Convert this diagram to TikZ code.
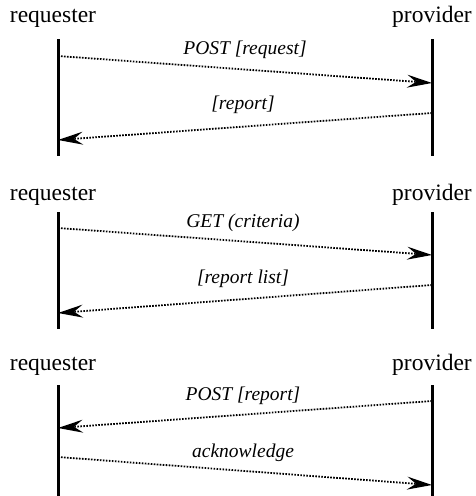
\documentclass[tikz,border=0pt]{standalone}
\usepackage{fontspec}
\setmainfont{Liberation Serif}
\usetikzlibrary{arrows.meta}
\begin{document}
\begin{tikzpicture}[x=1pt,y=-1pt,
  actor/.style={font=\fontsize{23.5}{26}\selectfont, inner sep=0pt, anchor=base},
  lifeline/.style={line width=3pt},
  msg/.style={line width=1.8pt, dash pattern=on 1.6pt off 1.4pt, -{Stealth[length=25pt,width=13pt,inset=9pt,line width=0pt]}},
  lbl/.style={font=\fontsize{19.5}{22}\selectfont\itshape, inner sep=0pt, anchor=base}]
\useasboundingbox (0,0) rectangle (475,496);
% section 1
\node[actor] (r1) at (53,22) {requester};
\node[actor] (p1) at (432,22) {provider};
\coordinate (r1t) at (58,39); \coordinate (r1b) at (58,156);
\coordinate (p1t) at (432,39); \coordinate (p1b) at (432,156);
\draw[lifeline] (r1t) -- (r1b);
\draw[lifeline] (p1t) -- (p1b);
\coordinate (a1s) at (58,56); \coordinate (a1e) at (432,83);
\coordinate (b1s) at (432,113); \coordinate (b1e) at (58,140);
\draw[msg] (a1s) -- (a1e);
\draw[msg] (b1s) -- (b1e);
\node[lbl] (l1a) at (245,54) {POST [request]};
\node[lbl] (l1b) at (243,109) {[report]};
% section 2
\node[actor] (r2) at (53,200) {requester};
\node[actor] (p2) at (432,200) {provider};
\coordinate (r2t) at (58,212); \coordinate (r2b) at (58,329);
\coordinate (p2t) at (432,212); \coordinate (p2b) at (432,329);
\draw[lifeline] (r2t) -- (r2b);
\draw[lifeline] (p2t) -- (p2b);
\coordinate (a2s) at (58,228); \coordinate (a2e) at (432,255);
\coordinate (b2s) at (432,285); \coordinate (b2e) at (58,313);
\draw[msg] (a2s) -- (a2e);
\draw[msg] (b2s) -- (b2e);
\node[lbl] (l2a) at (243,227) {GET (criteria)};
\node[lbl] (l2b) at (243,283) {[report list]};
% section 3
\node[actor] (r3) at (53,370) {requester};
\node[actor] (p3) at (432,370) {provider};
\coordinate (r3t) at (58,385); \coordinate (r3b) at (58,496);
\coordinate (p3t) at (432,385); \coordinate (p3b) at (432,496);
\draw[lifeline] (r3t) -- (r3b);
\draw[lifeline] (p3t) -- (p3b);
\coordinate (a3s) at (432,401); \coordinate (a3e) at (58,428);
\coordinate (b3s) at (58,457); \coordinate (b3e) at (432,485);
\draw[msg] (a3s) -- (a3e);
\draw[msg] (b3s) -- (b3e);
\node[lbl] (l3a) at (243,400) {POST [report]};
\node[lbl] (l3b) at (243,457) {acknowledge};
\end{tikzpicture}
\end{document}
